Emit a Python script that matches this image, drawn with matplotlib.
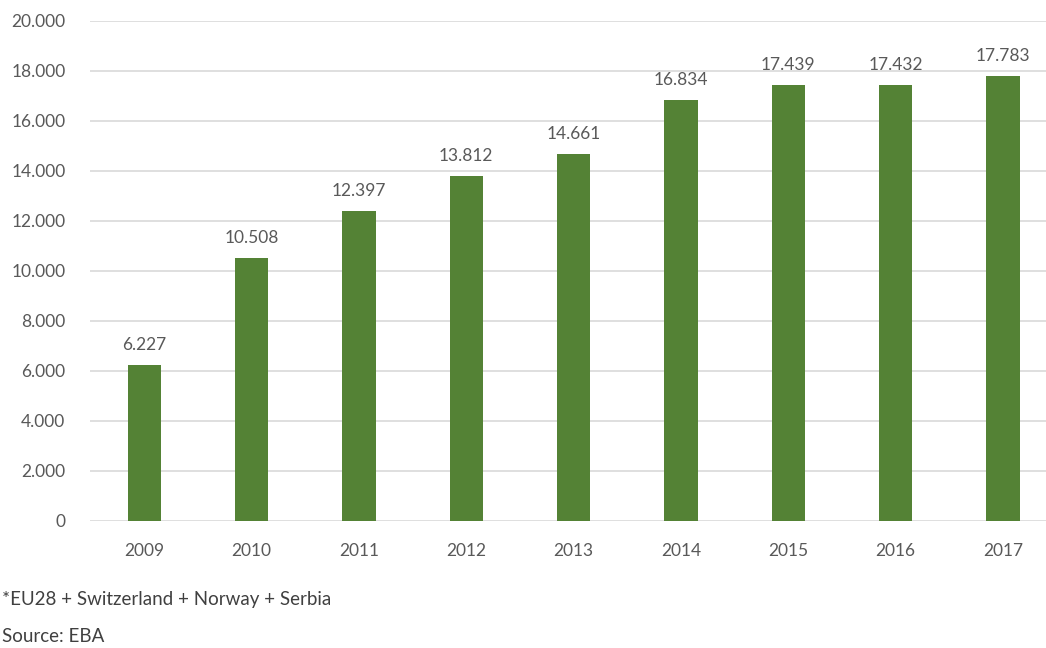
import matplotlib
matplotlib.use("Agg")
import matplotlib.pyplot as plt
from matplotlib.ticker import FuncFormatter

years = ["2009", "2010", "2011", "2012", "2013", "2014", "2015", "2016", "2017"]
values = [6227, 10508, 12397, 13812, 14661, 16834, 17439, 17432, 17783]
y_ticks = [0, 2000, 4000, 6000, 8000, 10000, 12000, 14000, 16000, 18000, 20000]
footnote = "*EU28 + Switzerland + Norway + Serbia"
source = "Source: EBA"

plt.rcParams["font.family"] = ["Lato", "DejaVu Sans"]

BAR = "#548235"
TEXT = "#595959"
GRID = "#d9d9d9"


def dotted(v, _pos=None):
    return f"{int(round(v)):,}".replace(",", ".")


fig = plt.figure(figsize=(10.46, 6.48), dpi=100)
ax = fig.add_axes([0.0865, 0.196, 0.9135, 0.7716])

x = range(len(years))
ax.bar(x, values, width=0.31, color=BAR, zorder=3)
for xi, v in zip(x, values):
    ax.text(xi, v + 480, dotted(v), ha="center", va="bottom",
            fontsize=12.5, color=TEXT)

# the plot area runs off the right edge, so the last category is not padded
ax.set_xlim(-0.5, len(years) - 0.6)
ax.set_ylim(0, 20000)
ax.set_yticks(y_ticks)
ax.yaxis.set_major_formatter(FuncFormatter(dotted))
ax.set_xticks(list(x))
ax.set_xticklabels(years)
ax.grid(axis="y", color=GRID, linewidth=1.2, zorder=0)
for s in ax.spines.values():
    s.set_visible(False)
ax.tick_params(axis="both", length=0, labelsize=12.5, labelcolor=TEXT)
ax.tick_params(axis="x", pad=16)
ax.tick_params(axis="y", pad=18)

fig.text(0.002, 1 - 600 / 648, footnote, ha="left", va="center",
         fontsize=13.5, color="#404040")
fig.text(0.002, 1 - 636 / 648, source, ha="left", va="center",
         fontsize=13.5, color="#404040")

fig.savefig("out.png", dpi=100)
